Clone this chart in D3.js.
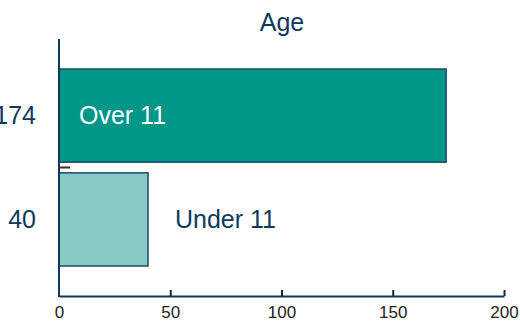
<!DOCTYPE html>
<html>
<head>
<meta charset="utf-8">
<script src="https://cdn.jsdelivr.net/npm/d3@7"></script>
<style>
  body { margin: 0; background: #fff; }
  text { font-family: "Liberation Sans", Arial, sans-serif; }
</style>
</head>
<body>
<div id="chart"></div>
<script>
// data
var categories = ["Over 11", "Under 11"];
var values = [174, 40];
var xTicks = [0, 50, 100, 150, 200];
var barColors = ["#009688", "#88c9c3"];
var title = "Age";

var W = 520, H = 321;
var margin = {top: 39, right: 16, bottom: 25, left: 59};

var svg = d3.select("#chart")
  .append("svg")
    .attr("width", W)
    .attr("height", H);

var x = d3.scaleLinear()
  .domain([0, 200])
  .range([margin.left, 504]);

var y = d3.scaleBand()
  .domain(categories)
  .range([margin.top, H - margin.bottom])
  .paddingInner(0.103)
  .paddingOuter(0.289);

var dark = "#0d3a5c";

// title
svg.append("text")
  .attr("x", (x(0) + x(200)) / 2 + 0.5)
  .attr("y", 31)
  .attr("text-anchor", "middle")
  .style("font-size", "25px")
  .style("fill", dark)
  .text(title);

// bars
svg.selectAll(".bar")
  .data(categories)
  .enter()
  .append("rect")
    .attr("class", "bar")
    .attr("x", x(0))
    .attr("y", function(d) { return y(d); })
    .attr("width", function(d, i) { return x(values[i]) - x(0); })
    .attr("height", y.bandwidth())
    .style("fill", function(d, i) { return barColors[i]; })
    .style("stroke", "#1c4a6a")
    .style("stroke-width", 1.5);

// value labels on the left
svg.selectAll(".val")
  .data(categories)
  .enter()
  .append("text")
    .attr("class", "val")
    .attr("x", x(0) - 23)
    .attr("y", function(d) { return y(d) + y.bandwidth() / 2; })
    .attr("dy", "0.35em")
    .attr("text-anchor", "end")
    .style("font-size", "25px")
    .style("fill", dark)
    .text(function(d, i) { return values[i]; });

// category labels: inside the long bar, outside the short one
svg.selectAll(".cat")
  .data(categories)
  .enter()
  .append("text")
    .attr("class", "cat")
    .attr("x", function(d, i) { return values[i] > 100 ? x(0) + 20 : x(values[i]) + 27; })
    .attr("y", function(d) { return y(d) + y.bandwidth() / 2; })
    .attr("dy", "0.35em")
    .style("font-size", "25px")
    .style("fill", function(d, i) { return values[i] > 100 ? "#fff" : dark; })
    .text(function(d) { return d; });

// x axis
var xAxis = svg.append("g")
  .attr("transform", "translate(0," + (H - margin.bottom) + ")")
  .call(d3.axisBottom(x).tickValues(xTicks).tickSizeInner(-6).tickSizeOuter(0).tickPadding(10));
xAxis.select(".domain").style("stroke", dark).style("stroke-width", 2);
xAxis.selectAll(".tick line").style("stroke", "#222").style("stroke-width", 2);
xAxis.selectAll(".tick text")
  .style("font-size", "17px")
  .style("fill", "#222")
  .style("font-family", "'Liberation Sans', Arial, sans-serif");
xAxis.selectAll(".tick").filter(function(d) { return d === 0; }).select("line").remove();

// y axis line
svg.append("line")
  .attr("x1", x(0)).attr("x2", x(0))
  .attr("y1", margin.top).attr("y2", H - margin.bottom + 1)
  .style("stroke", dark)
  .style("stroke-width", 2);

// small tick between the bars
var midY = y(categories[1]) - y.step() * y.paddingInner() / 2;
svg.append("line")
  .attr("x1", x(0)).attr("x2", x(0) + 11)
  .attr("y1", midY).attr("y2", midY)
  .style("stroke", "#333")
  .style("stroke-width", 2);
</script>
</body>
</html>
